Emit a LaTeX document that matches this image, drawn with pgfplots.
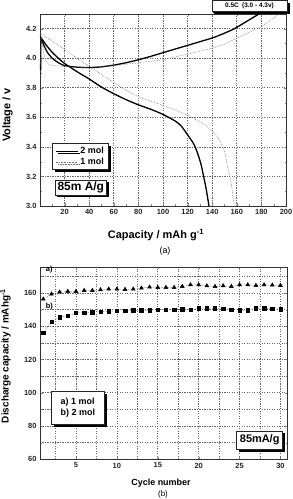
\documentclass[border=0pt]{standalone}
\usepackage{fontspec}
\setmainfont{Liberation Sans}
\usepackage{pgfplots}
\pgfplotsset{compat=1.18}
\usetikzlibrary{shadows}

\tikzset{
  boxed/.style={draw=black!85, line width=0.8pt, fill=white,
    drop shadow={shadow xshift=2.5bp, shadow yshift=-2.5bp, fill=black, opacity=1}},
}
\pgfplotsset{
  panel/.style={
    scale only axis,
    axis line style={line width=0.7pt, black!80},
    tick align=inside,
    major tick length=2.5bp, minor tick length=1.5bp,
    every axis grid/.style={draw=black!60, line width=0.7pt, dash pattern=on 1.2pt off 1.3pt},
    tick label style={font=\fontsize{7.5}{8}\selectfont\bfseries, text=black!85},
    /pgf/number format/assume math mode=true,
  },
}

\begin{document}
\begin{tikzpicture}
\useasboundingbox (0,0) rectangle (293bp,499bp);

% ---------- (a) charge / discharge curves ----------
\begin{axis}[panel,
  at={(40bp,293bp)}, anchor=south west,
  width=246bp, height=192bp,
  xmin=0, xmax=200, ymin=3.0, ymax=4.3,
  xtick={20,40,60,80,100,120,140,160,180,200},
  minor xtick={10,30,50,70,90,110,130,150,170,190},
  ytick={3.0,3.2,3.4,3.6,3.8,4.0,4.2},
  minor ytick={3.1,3.3,3.5,3.7,3.9,4.1,4.3},
  yticklabel style={/pgf/number format/.cd, fixed, fixed zerofill, precision=1},
  grid=major,
  legend style={at={(0.0476,0.3266)}, anchor=north west, boxed,
    font=\fontsize{9}{10}\selectfont\bfseries, inner xsep=3bp, inner ysep=1.5bp,
    row sep=-1bp},
  legend cell align=left,
  legend image code/.code={\draw[#1] (0bp,0bp) -- (22bp,0bp);},
]
% discharge, 2 mol
\addplot[black, line width=1.3pt, smooth, tension=0.4] coordinates {
  (0,4.15) (5,4.09) (10,4.04) (15,4.0) (20,3.965) (30,3.91) (40,3.86)
  (50,3.805) (60,3.76) (70,3.72) (80,3.685) (90,3.655) (100,3.62)
  (110,3.575) (115,3.54) (121,3.47) (125,3.42) (128,3.36) (131,3.28)
  (133,3.2) (135,3.12) (137.4,3.0)};
\addlegendentry{2 mol}
% discharge, 1 mol
\addplot[black!55, line width=0.6pt, densely dotted, smooth, tension=0.4] coordinates {
  (0,4.17) (10,4.115) (20,4.06) (30,4.0) (40,3.945) (50,3.89) (60,3.835)
  (70,3.785) (80,3.74) (90,3.71) (100,3.68) (110,3.65) (121,3.61)
  (130,3.57) (135,3.545) (140,3.505) (144,3.47) (147,3.43) (150,3.37)
  (152.4,3.27) (155.6,3.15) (157.8,3.0)};
\addlegendentry{1 mol}
% charge, 2 mol
\addplot[black, line width=1.3pt, smooth, tension=0.3, forget plot] coordinates {
  (0.5,3.92) (0.8,4.13) (3,4.09) (6,4.04) (10,4.0) (15,3.97) (20,3.95)
  (30,3.94) (40,3.937) (50,3.942) (60.7,3.955) (70,3.97) (80,3.99)
  (90,4.013) (100.7,4.04) (110,4.063) (121,4.09) (131,4.115) (141,4.14)
  (150,4.17) (158,4.20) (168,4.25) (178,4.30)};
% charge, 1 mol
\addplot[black!55, line width=0.6pt, densely dotted, smooth, tension=0.3, forget plot] coordinates {
  (0.5,3.95) (0.8,4.14) (2,4.08) (4,4.0) (6,3.965) (8,3.955) (12,3.95)
  (20,3.945) (30,3.94) (40,3.94) (50,3.945) (60,3.95) (70,3.96) (80,3.97)
  (90,3.98) (100,3.99) (110,4.01) (121,4.03) (131,4.05) (141,4.07)
  (151,4.10) (161,4.14) (171,4.18) (181,4.22) (188,4.26) (194,4.30)};
\end{axis}

% ---------- (b) cycling ----------
\begin{axis}[panel,
  at={(40bp,39.7bp)}, anchor=south west,
  width=247bp, height=192.3bp,
  xmin=0.6, xmax=30.8, ymin=60, ymax=175.7,
  xtick={5,10,15,20,25,30},
  minor xtick={2.5,7.5,12.5,17.5,22.5,27.5},
  ytick={60,80,100,120,140,160},
  minor ytick={70,90,110,130,150,170},
  grid=both,
]
% a) 1 mol
\addplot[black!70, line width=0.5pt, densely dotted,
  mark=triangle*, mark size=2.2bp, mark options={solid, fill=black, draw=black}] coordinates {
  (1,156.4) (2,159.4) (3,160.6) (4,161) (5,161) (6,161.6) (7,161.6)
  (8,162) (9,162.4) (10,162.4) (11,162.2) (12,162.4) (13,163) (14,163.6)
  (15,163.4) (16,163.4) (17,163.4) (18,164) (19,165) (20,165) (21,164.4)
  (22,164) (23,164.4) (24,164) (25,165) (26,165) (27,164.6) (28,165)
  (29,164.8) (30,164.6)};
% b) 2 mol
\addplot[black!70, line width=0.5pt, densely dotted,
  mark=square*, mark size=1.7bp, mark options={solid, fill=black, draw=black}] coordinates {
  (1,136.3) (2,142.9) (3,145.5) (4,146.3) (5,148) (6,148.3) (7,148.5)
  (8,148.9) (9,149.1) (10,149.3) (11,149.3) (12,149.6) (13,149.6) (14,149.6)
  (15,150) (16,150) (17,150) (18,150.4) (19,150) (20,150.8) (21,151)
  (22,151) (23,150.6) (24,150) (25,149.6) (26,149.6) (27,150.8) (28,151)
  (29,150.6) (30,150.4)};
\end{axis}

% ---------- annotations ----------
\begin{scope}[x=1bp, y=1bp]
\node[boxed, line width=0.6pt, drop shadow={shadow xshift=1.2bp, shadow yshift=-1.2bp, fill=black, opacity=1},
  minimum width=75bp, minimum height=11bp, inner sep=0pt,
  font=\fontsize{6.5}{7}\selectfont\bfseries] at (249.5,493) {0.5C\enspace(3.0 - 4.3v)};
\node[boxed, minimum width=51.7bp, minimum height=15bp, inner sep=0pt,
  font=\fontsize{12}{13}\selectfont\bfseries] at (80.8,311.5) {85m A/g};

\node[boxed, minimum width=46bp, minimum height=18bp, inner sep=0pt,
  font=\fontsize{11}{12}\selectfont\bfseries] at (259.7,59) {85mA/g};
\node[boxed, minimum width=52.3bp, minimum height=32.3bp, inner sep=0pt, align=left,
  font=\fontsize{9}{11.5}\selectfont\bfseries] at (77.9,91.1) {a) 1 mol\\b) 2 mol};

\node[font=\fontsize{7.5}{8}\selectfont\bfseries] at (49.3,229.7) {a)};
\node[font=\fontsize{7.5}{8}\selectfont\bfseries] at (49.3,192) {b)};

% axis titles
\node[rotate=90, font=\fontsize{11}{12}\selectfont\bfseries] at (7.5,384) {Voltage / v};
\node[font=\fontsize{11}{12}\selectfont\bfseries] at (156,264) {Capacity / mAh g\textsuperscript{-1}};
\node[font=\fontsize{9}{10}\selectfont] at (165,248) {(a)};

\node[rotate=90, font=\fontsize{10}{11}\selectfont\bfseries] at (5.5,143) {Discharge capacity / mAhg\textsuperscript{-1}};
\node[font=\fontsize{9}{10}\selectfont\bfseries] at (161,16) {Cycle number};
\node[font=\fontsize{8}{9}\selectfont] at (163,5) {(b)};
\end{scope}
\end{tikzpicture}
\end{document}
